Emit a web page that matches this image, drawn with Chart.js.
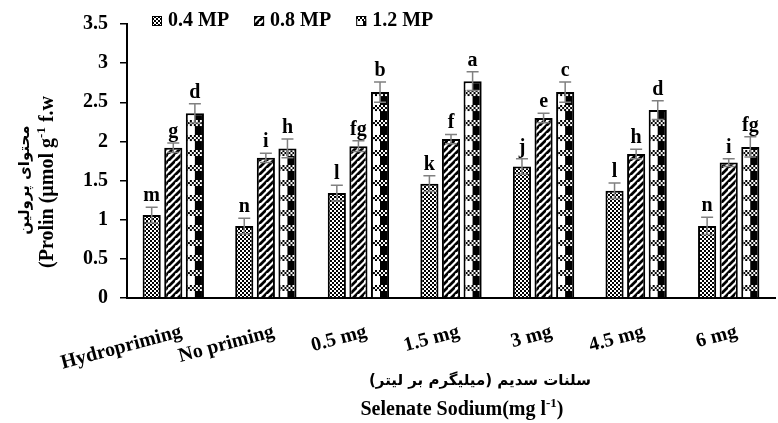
<!DOCTYPE html>
<html>
<head>
<meta charset="utf-8">
<script src="https://cdn.jsdelivr.net/npm/chart.js@4"></script>
<style>
  html, body { margin: 0; padding: 0; background: #fff; }
  #wrap { position: relative; width: 778px; height: 423px; }
</style>
</head>
<body>
<div id="wrap"><canvas id="prolinChart"></canvas></div>
<script>
// treatments on the x axis
const categories = ['Hydropriming', 'No priming', '0.5 mg', '1.5 mg', '3 mg', '4.5 mg', '6 mg'];
const seriesNames = ['0.4 MP', '0.8 MP', '1.2 MP'];

// proline content (µmol g-1 f.w)
const mp04 = [1.06, 0.92, 1.34, 1.46, 1.68, 1.37, 0.92];
const mp08 = [1.92, 1.79, 1.94, 2.03, 2.30, 1.84, 1.73];
const mp12 = [2.36, 1.91, 2.63, 2.77, 2.63, 2.40, 1.93];

// standard errors
const err04 = [0.10, 0.10, 0.10, 0.10, 0.10, 0.10, 0.11];
const err08 = [0.06, 0.06, 0.07, 0.06, 0.06, 0.06, 0.05];
const err12 = [0.12, 0.12, 0.13, 0.12, 0.13, 0.12, 0.13];

// Duncan letters
const letters04 = ['m', 'n', 'l', 'k', 'j', 'l', 'n'];
const letters08 = ['g', 'i', 'fg', 'f', 'e', 'h', 'i'];
const letters12 = ['d', 'h', 'b', 'a', 'c', 'd', 'fg'];

// y axis ticks
const yMin = 0, yMax = 3.5, yStep = 0.5;

const errors = [err04, err08, err12];
const letters = [letters04, letters08, letters12];

const SERIF = "'Liberation Serif', 'Times New Roman', serif";
const FONT = 'bold 20px ' + SERIF;
const FA_FONT = "bold 15px 'DejaVu Sans', sans-serif";

function makeTile(w, h, draw) {
    const c = document.createElement('canvas');
    c.width = w; c.height = h;
    draw(c.getContext('2d'));
    return c;
}

// small checker
const tile04 = makeTile(4, 4, g => {
    g.fillStyle = '#000'; g.fillRect(0, 0, 4, 4);
    g.fillStyle = '#fff'; g.fillRect(0, 0, 2, 2); g.fillRect(2, 2, 2, 2);
});
// wide upward diagonal
const tile08 = makeTile(7, 7, g => {
    g.fillStyle = '#fff'; g.fillRect(0, 0, 7, 7);
    g.strokeStyle = '#000'; g.lineWidth = 2.8;
    g.beginPath();
    g.moveTo(-1, 8); g.lineTo(8, -1);
    g.moveTo(-4.5, 3.5); g.lineTo(3.5, -4.5);
    g.moveTo(3.5, 10.5); g.lineTo(10.5, 3.5);
    g.stroke();
});
// large checker
const tile12 = makeTile(18, 15, g => {
    g.fillStyle = '#fff'; g.fillRect(0, 0, 18, 15);
    g.fillStyle = '#000';
    for (let x = 0; x < 18; x += 2) {
        for (let y = 0; y < 6; y += 2) {
            if (((x + y) / 2) % 2 === 0) g.fillRect(x, y, 2, 2);
        }
    }
    g.fillRect(9, 6, 9, 9);
});

const tmpCtx = document.createElement('canvas').getContext('2d');
const pat04 = tmpCtx.createPattern(tile04, 'repeat');
const pat08 = tmpCtx.createPattern(tile08, 'repeat');

function pattern12(offsetX) {
    const p = tmpCtx.createPattern(tile12, 'repeat');
    if (isFinite(offsetX)) p.setTransform(new DOMMatrix([1, 0, 0, 1, offsetX, 0]));
    return p;
}

const CAT_PCT = 0.7, BAR_PCT = 0.84;

function bar12Fill(ctx) {
    const xs = ctx.chart.scales.x;
    if (!xs || ctx.dataIndex === undefined) return pattern12(0);
    const slot = xs.width / categories.length * CAT_PCT / 3;
    const left = xs.getPixelForValue(ctx.dataIndex) + slot - slot * BAR_PCT / 2;
    return pattern12(left);
}

// draw text with a superscript part, centred at (cx, cy)
function drawRich(ctx, parts, cx, cy) {
    let total = 0;
    parts.forEach(p => {
        ctx.font = p.sup ? 'bold 13px ' + SERIF : FONT;
        p.w = ctx.measureText(p.t).width;
        total += p.w;
    });
    let x = cx - total / 2;
    ctx.textAlign = 'left';
    ctx.textBaseline = 'middle';
    parts.forEach(p => {
        ctx.font = p.sup ? 'bold 13px ' + SERIF : FONT;
        ctx.fillText(p.t, x, p.sup ? cy - 6 : cy);
        x += p.w;
    });
}

const extrasPlugin = {
    id: 'extras',
    afterDatasetsDraw(chart) {
        const ctx = chart.ctx;
        const y = chart.scales.y;
        ctx.save();
        chart.data.datasets.forEach((ds, i) => {
            const meta = chart.getDatasetMeta(i);
            meta.data.forEach((bar, j) => {
                const v = ds.data[j];
                const e = errors[i][j];
                const top = y.getPixelForValue(v + e);
                const bot = y.getPixelForValue(v - e);
                ctx.strokeStyle = '#808080';
                ctx.lineWidth = 1.5;
                ctx.beginPath();
                ctx.moveTo(bar.x, top); ctx.lineTo(bar.x, bot);
                ctx.moveTo(bar.x - 6, top); ctx.lineTo(bar.x + 6, top);
                ctx.moveTo(bar.x - 6, bot); ctx.lineTo(bar.x + 6, bot);
                ctx.stroke();
                ctx.fillStyle = '#000';
                ctx.font = FONT;
                ctx.textAlign = 'center';
                ctx.textBaseline = 'alphabetic';
                ctx.fillText(letters[i][j], bar.x, top - 6);
            });
        });
        ctx.restore();
    },
    afterDraw(chart) {
        const ctx = chart.ctx;
        ctx.save();
        ctx.fillStyle = '#000';

        // legend
        let lx = 152;
        const fills = [pat04, pat08, pattern12(lx + 206 - 4)];
        seriesNames.forEach((name, i) => {
            ctx.fillStyle = fills[i];
            ctx.fillRect(lx, 16, 10, 10);
            ctx.strokeStyle = '#000';
            ctx.lineWidth = 1;
            ctx.strokeRect(lx + 0.5, 16.5, 9, 9);
            ctx.fillStyle = '#000';
            ctx.font = FONT;
            ctx.textAlign = 'left';
            ctx.textBaseline = 'middle';
            ctx.fillText(name, lx + 16, 21);
            lx += 16 + ctx.measureText(name).width + 25;
        });

        // y axis title
        ctx.save();
        ctx.translate(25, 180);
        ctx.rotate(-Math.PI / 2);
        ctx.font = FA_FONT;
        ctx.textAlign = 'center';
        ctx.textBaseline = 'middle';
        ctx.fillText('محتوای پرولین', 0, 0);
        ctx.restore();

        ctx.save();
        ctx.translate(48, 182);
        ctx.rotate(-Math.PI / 2);
        drawRich(ctx, [{ t: '(Prolin (µmol g' }, { t: '-1', sup: true }, { t: ' f.w' }], 0, 0);
        ctx.restore();

        // x axis title
        ctx.font = FA_FONT;
        ctx.textAlign = 'center';
        ctx.textBaseline = 'middle';
        ctx.fillText('(سلنات سدیم (میلیگرم بر لیتر', 480, 381);
        drawRich(ctx, [{ t: 'Selenate Sodium(mg l' }, { t: '-1', sup: true }, { t: ')' }], 462, 410);

        ctx.restore();
    }
};

document.addEventListener('DOMContentLoaded', function() {
    new Chart(document.getElementById('prolinChart'), {
        type: 'bar',
        data: {
            labels: categories,
            datasets: [
                { label: seriesNames[0], data: mp04, backgroundColor: pat04 },
                { label: seriesNames[1], data: mp08, backgroundColor: pat08 },
                { label: seriesNames[2], data: mp12, backgroundColor: bar12Fill }
            ].map(ds => Object.assign(ds, {
                borderColor: '#000',
                borderWidth: 2,
                categoryPercentage: CAT_PCT,
                barPercentage: BAR_PCT
            }))
        },
        options: {
            responsive: true,
            maintainAspectRatio: false,
            animation: false,
            events: [],
            layout: { padding: { top: 22, right: 3, left: 0, bottom: 0 } },
            plugins: {
                legend: { display: false },
                tooltip: { enabled: false }
            },
            scales: {
                x: {
                    grid: { display: false },
                    border: { display: true, color: '#000', width: 2 },
                    ticks: {
                        color: '#000',
                        font: { family: SERIF, size: 20, weight: 'bold' },
                        minRotation: 15,
                        maxRotation: 15,
                        autoSkip: false,
                        padding: 14,
                        labelOffset: 8
                    },
                    afterFit(scale) { scale.height = 125; }
                },
                y: {
                    min: yMin,
                    max: yMax,
                    ticks: {
                        stepSize: yStep,
                        color: '#000',
                        font: { family: SERIF, size: 20, weight: 'bold' },
                        padding: 12,
                        callback: value => String(Math.round(value * 10) / 10)
                    },
                    grid: {
                        display: true,
                        drawOnChartArea: false,
                        drawTicks: true,
                        tickLength: 7,
                        color: '#000',
                        lineWidth: 1.5
                    },
                    border: { display: true, color: '#000', width: 2 },
                    afterFit(scale) { scale.width = 127; }
                }
            }
        },
        plugins: [extrasPlugin]
    });
});
</script>
</body>
</html>
